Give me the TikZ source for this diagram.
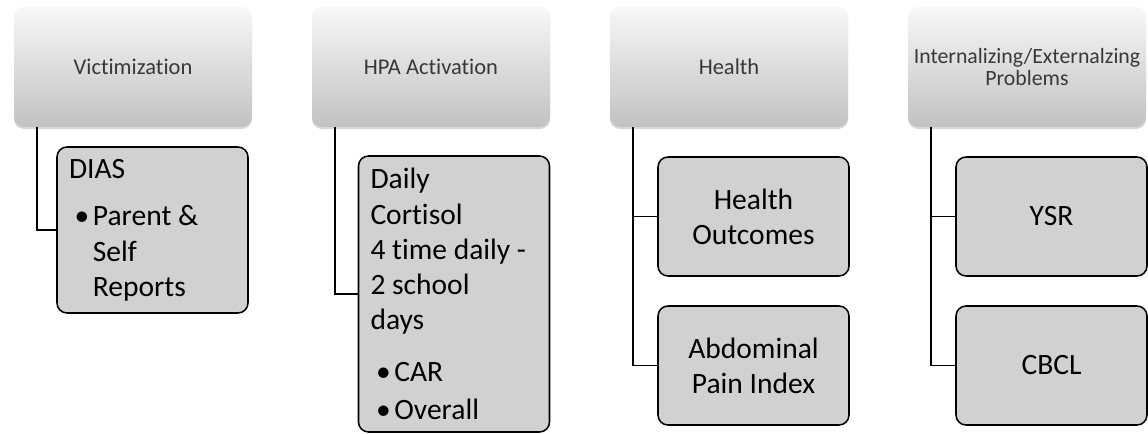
\documentclass[tikz,border=0pt]{standalone}
\usepackage{fontspec}
\setmainfont{Carlito}[Ligatures=NoCommon]
\usepackage{tikz}
\usetikzlibrary{calc,shadows}

\begin{document}
\begin{tikzpicture}[
    headbox/.style={rounded corners=0.25cm, minimum width=5.95cm, minimum height=3cm,
        top color=black!3, bottom color=black!24, text=black!78, align=flush center,
        font=\fontsize{16}{14}\selectfont,
        drop shadow={shadow xshift=0pt, shadow yshift=-0.05cm, opacity=0.25, fill=black!60}},
    subbox/.style={draw=black, line width=1.1pt, rounded corners=0.25cm, fill=black!18,
        minimum width=4.775cm, text width=4.175cm, inner xsep=0.3cm,
        font=\fontsize{21}{25}\selectfont},
    link/.style={line width=1.4pt}
]
\useasboundingbox (0,0) rectangle (28.7,-10.825);
% top row
\node[headbox] (vict) at (3.325,-1.675) {Victimization};
\node[headbox] (hpa) at (10.775,-1.675) {HPA Activation};
\node[headbox] (hlth) at (18.225,-1.675) {Health};
\node[headbox, font=\fontsize{15.5}{14}\selectfont] (prob) at (25.675,-1.675) {Internalizing/Externalzing\\[1.5pt]Problems};
% measures
\node[subbox, align=flush left, minimum height=4.15cm] (dias) at (3.8125,-5.75)
    {DIAS\\[9pt]\hspace*{4pt}\makebox[13pt][l]{\textbullet}Parent \&\\\hspace*{17pt}Self\\\hspace*{17pt}Reports};
\node[subbox, align=flush left, minimum height=6.9cm] (cort) at (11.35,-7.35)
    {Daily\\Cortisol\\4 time daily -\\2 school\\days\\[12pt]\hspace*{4pt}\makebox[13pt][l]{\textbullet}CAR\\[2pt]\hspace*{4pt}\makebox[13pt][l]{\textbullet}Overall};
\node[subbox, align=flush center, minimum height=2.975cm] (hout) at (18.8375,-5.4125) {Health\\Outcomes};
\node[subbox, align=flush center, minimum height=2.975cm] (abd) at (18.8375,-9.1375) {Abdominal\\Pain Index};
\node[subbox, align=flush center, minimum height=2.975cm] (ysr) at (26.2875,-5.4125) {YSR};
\node[subbox, align=flush center, minimum height=2.975cm] (cbcl) at (26.2875,-9.1375) {CBCL};
% connectors
\draw[link] ($(vict.south west)+(0.575,0)$) |- (dias.west);
\draw[link] ($(hpa.south west)+(0.575,0)$) |- (cort.west);
\draw[link] ($(hlth.south west)+(0.575,0)$) |- (hout.west);
\draw[link] ($(hlth.south west)+(0.575,0)$) |- (abd.west);
\draw[link] ($(prob.south west)+(0.575,0)$) |- (ysr.west);
\draw[link] ($(prob.south west)+(0.575,0)$) |- (cbcl.west);
\end{tikzpicture}
\end{document}
